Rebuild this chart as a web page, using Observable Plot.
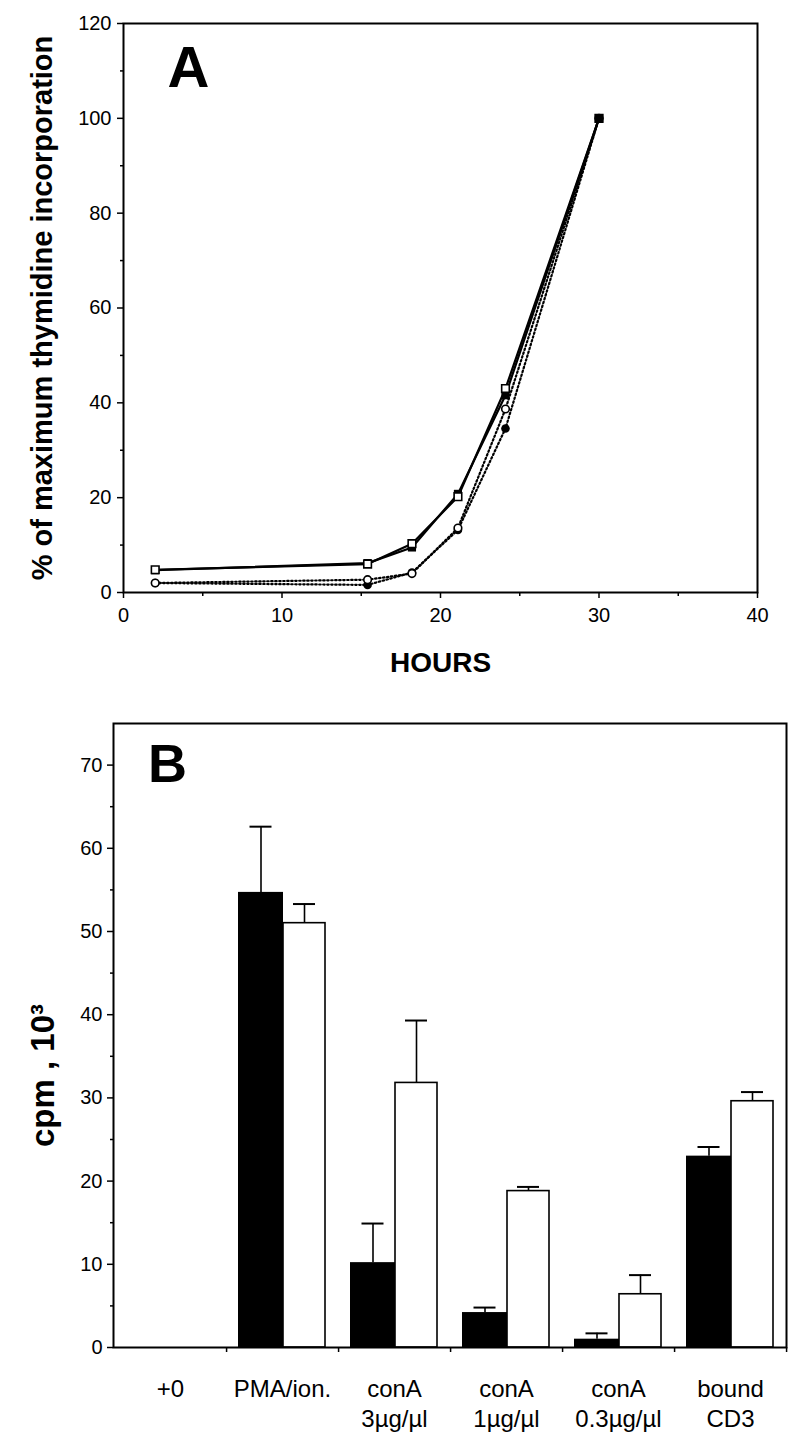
<!DOCTYPE html>
<html><head><meta charset="utf-8">
<script src="https://cdn.jsdelivr.net/npm/d3@7"></script>
<script src="https://cdn.jsdelivr.net/npm/@observablehq/plot@0.6"></script>
<style>
body{margin:0;background:#fff;}
#chart{width:800px;}
#chart svg{display:block;}
</style></head><body><div id="chart"></div>
<script>
// ---------- Panel A data ----------
const hours = [2, 15.4, 18.2, 21.1, 24.1, 30];
const filledSquare = [4.7, 6.2, 9.5, 20.8, 41.6, 100];
const openSquare = [4.8, 6.0, 10.3, 20.2, 43.0, 100];
const openCircle = [2.0, 2.7, 4.0, 13.6, 38.7, 100];
const filledCircle = [2.0, 1.6, 4.2, 13.2, 34.6, 100];
const xTicksA = [0, 10, 20, 30, 40];
const xMinorA = [5, 15, 25, 35];
const yTicksA = [0, 20, 40, 60, 80, 100, 120];
const yMinorA = [10, 30, 50, 70, 90, 110];

// ---------- Panel B data ----------
const categories = ["+0", "PMA/ion.", "conA 3µg/µl", "conA 1µg/µl", "conA 0.3µg/µl", "bound CD3"];
const categoryLabels = ["+0", "PMA/ion.", "conA\n3µg/µl", "conA\n1µg/µl", "conA\n0.3µg/µl", "bound\nCD3"];
const blackValues = [null, 54.7, 10.2, 4.2, 1.0, 23.0];
const blackErrTop = [null, 62.6, 14.9, 4.8, 1.7, 24.1];
const whiteValues = [null, 51.0, 31.8, 18.8, 6.4, 29.6];
const whiteErrTop = [null, 53.3, 39.3, 19.3, 8.7, 30.7];
const yTicksB = [0, 10, 20, 30, 40, 50, 60, 70];
const yMinorB = [5, 15, 25, 35, 45, 55, 65];

const FONT = "'Liberation Sans', Arial, Helvetica, sans-serif";

const seriesA = [
  {name: "filledSquare", values: filledSquare},
  {name: "openSquare", values: openSquare},
  {name: "openCircle", values: openCircle},
  {name: "filledCircle", values: filledCircle}
];
const dataA = seriesA.flatMap(s => hours.map((h, i) => ({series: s.name, hours: h, value: s.values[i]})));
const ofSeries = n => dataA.filter(d => d.series === n);

const plotA = Plot.plot({
  width: 800, height: 700,
  marginLeft: 123, marginRight: 43, marginTop: 23, marginBottom: 108,
  style: {fontFamily: FONT, background: "white", color: "black"},
  x: {domain: [0, 40]},
  y: {domain: [0, 120]},
  marks: [
    Plot.frame({stroke: "black", strokeWidth: 2}),
    Plot.axisY({ticks: yMinorA, tickSize: 3, tickFormat: () => "", strokeWidth: 1.5, label: null}),
    Plot.axisY({ticks: yTicksA, tickSize: 6, tickPadding: 6, fontSize: 20, strokeWidth: 1.5, label: null}),
    Plot.axisX({ticks: xMinorA, tickSize: 4, tickFormat: () => "", strokeWidth: 1.5, label: null}),
    Plot.axisX({ticks: xTicksA, tickSize: 6, tickPadding: 9, fontSize: 20, strokeWidth: 1.5, label: null}),
    Plot.line(ofSeries("filledCircle"), {x: "hours", y: "value", stroke: "black", strokeWidth: 2.2, strokeDasharray: "1.5,2.5"}),
    Plot.line(ofSeries("openCircle"), {x: "hours", y: "value", stroke: "black", strokeWidth: 2.2, strokeDasharray: "1.5,2.5"}),
    Plot.line(ofSeries("openSquare"), {x: "hours", y: "value", stroke: "black", strokeWidth: 2.2}),
    Plot.line(ofSeries("filledSquare"), {x: "hours", y: "value", stroke: "black", strokeWidth: 2.2}),
    Plot.dot(ofSeries("filledCircle"), {x: "hours", y: "value", symbol: "circle", r: 4.3, fill: "black"}),
    Plot.dot(ofSeries("openCircle"), {x: "hours", y: "value", symbol: "circle", r: 3.8, fill: "white", stroke: "black", strokeWidth: 1.6}),
    Plot.dot(ofSeries("filledSquare"), {x: "hours", y: "value", symbol: "square", r: 4.6, fill: "black"}),
    Plot.dot(ofSeries("openSquare"), {x: "hours", y: "value", symbol: "square", r: 4.3, fill: "white", stroke: "black", strokeWidth: 1.6}),
    Plot.dot(ofSeries("filledSquare").filter(d => d.hours === 30), {x: "hours", y: "value", symbol: "square", r: 4.6, fill: "black"}),
    Plot.text(["A"], {text: d => d, frameAnchor: "top-left", dx: 65, dy: 63, textAnchor: "middle", lineAnchor: "bottom", fontSize: 58, fontWeight: "bold"}),
    Plot.text(["% of maximum thymidine incorporation"], {text: d => d, frameAnchor: "left", textAnchor: "middle", lineAnchor: "middle", rotate: -90, dx: -81, fontSize: 29, fontWeight: "bold"}),
    Plot.text(["HOURS"], {text: d => d, frameAnchor: "bottom", dy: 79, fontSize: 28, fontWeight: "bold"})
  ]
});

const dataB = categories.map((c, i) => ({
  category: c, label: categoryLabels[i],
  black: blackValues[i], blackTop: blackErrTop[i],
  white: whiteValues[i], whiteTop: whiteErrTop[i]
}));
const barsB = dataB.filter(d => d.black != null);

const plotB = Plot.plot({
  width: 800, height: 733,
  marginLeft: 113, marginRight: 14, marginTop: 23, marginBottom: 86,
  style: {fontFamily: FONT, background: "white", color: "black"},
  x: {domain: categories, padding: 0, axis: null},
  y: {domain: [0, 75], axis: null},
  marks: [
    Plot.ruleX(barsB, {x: "category", y1: "black", y2: "blackTop", dx: -21.5, stroke: "black", strokeWidth: 1.6}),
    Plot.tickY(barsB, {x: "category", y: "blackTop", insetLeft: 23.5, insetRight: 66.5, stroke: "black", strokeWidth: 2}),
    Plot.ruleX(barsB, {x: "category", y1: "white", y2: "whiteTop", dx: 22, stroke: "black", strokeWidth: 1.6}),
    Plot.tickY(barsB, {x: "category", y: "whiteTop", insetLeft: 67, insetRight: 23, stroke: "black", strokeWidth: 2}),
    Plot.barY(barsB, {x: "category", y: "black", fill: "black", insetLeft: 12, insetRight: 55}),
    Plot.barY(barsB, {x: "category", y: "white", fill: "white", stroke: "black", strokeWidth: 1.6, insetLeft: 57, insetRight: 13}),
    Plot.frame({stroke: "black", strokeWidth: 2}),
    Plot.axisY({ticks: yMinorB, tickSize: 3, tickFormat: () => "", strokeWidth: 1.5, label: null}),
    Plot.axisY({ticks: yTicksB, tickSize: 6, tickPadding: 5, fontSize: 20, strokeWidth: 1.5, label: null}),
    Plot.axisX({ticks: categories, tickSize: 5, tickFormat: () => "", dx: 56.08, strokeWidth: 1.5, label: null}),
    Plot.text(dataB, {x: "category", text: "label", frameAnchor: "bottom", dy: 28, lineAnchor: "top", lineHeight: 1.25, fontSize: 24}),
    Plot.text(["B"], {text: d => d, frameAnchor: "top-left", dx: 54, dy: 58, textAnchor: "middle", lineAnchor: "bottom", fontSize: 54, fontWeight: "bold"}),
    Plot.text(["cpm , 10³"], {text: d => d, frameAnchor: "left", textAnchor: "middle", lineAnchor: "middle", rotate: -90, dx: -70, dy: 40, fontSize: 33, fontWeight: "bold"})
  ]
});

document.getElementById("chart").append(plotA, plotB);
</script>
</body></html>
